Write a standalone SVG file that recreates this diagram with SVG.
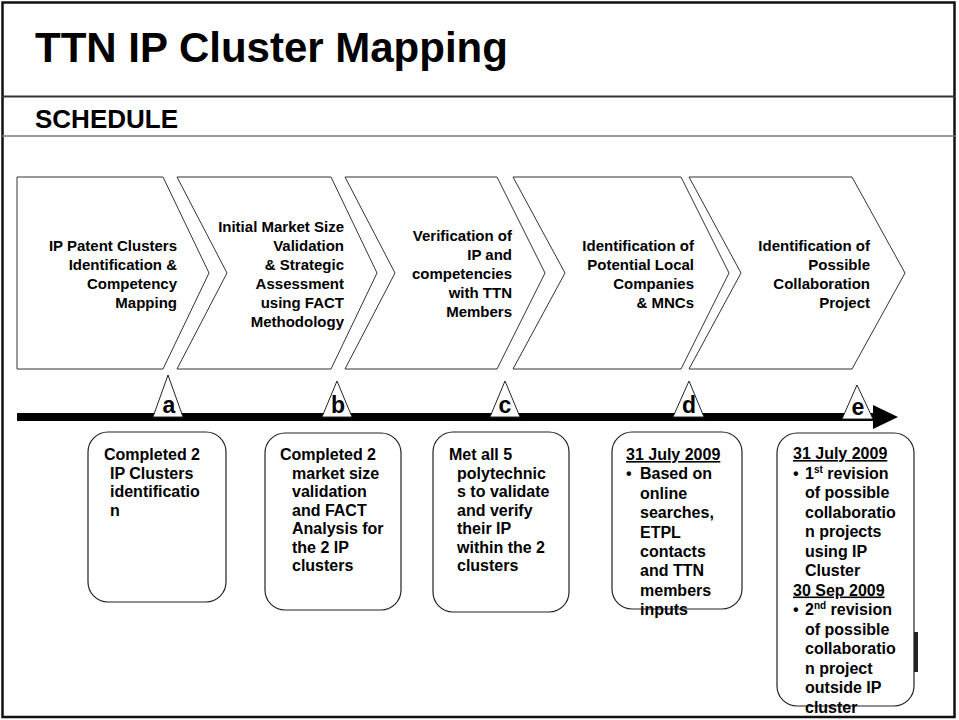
<svg xmlns="http://www.w3.org/2000/svg" width="959" height="720" viewBox="0 0 959 720">
<style>
text{font-family:"Liberation Sans",Arial,sans-serif;font-weight:bold;fill:#000}
.chev{fill:#fff;stroke:#333;stroke-width:1}
.ct{font-size:15px;text-anchor:end}
.tri{fill:#fff;stroke:#222;stroke-width:1}
.tl{font-size:23px;text-anchor:middle}
.box{fill:#fff;stroke:#222;stroke-width:1.2}
.bt{font-size:16px}
.u{text-decoration:underline}
</style>
<rect x="0" y="0" width="959" height="720" fill="#fff"/>
<g id="frame">
<rect x="2.5" y="2.5" width="952" height="714.5" fill="none" stroke="#111" stroke-width="2.5"/>
<line x1="2" y1="96.5" x2="955" y2="96.5" stroke="#333" stroke-width="2"/>
<line x1="2" y1="136" x2="955" y2="136" stroke="#777" stroke-width="1.5"/>
<text x="35" y="62" style="font-size:42px">TTN IP Cluster Mapping</text>
<text x="35" y="128" style="font-size:26px">SCHEDULE</text>
</g>
<g id="step1">
<polygon class="chev" points="17,177 163,177 209,273 163,369 17,369"/>
<text class="ct"><tspan x="177" y="251">IP Patent Clusters</tspan><tspan x="177" y="270">Identification &amp;</tspan><tspan x="177" y="289">Competency</tspan><tspan x="177" y="308">Mapping</tspan></text>
</g>
<g id="step2">
<polygon class="chev" points="177,177 331,177 377,273 331,369 177,369 227,273"/>
<text class="ct"><tspan x="344" y="232">Initial Market Size</tspan><tspan x="344" y="251">Validation</tspan><tspan x="344" y="270">&amp; Strategic</tspan><tspan x="344" y="289">Assessment</tspan><tspan x="344" y="308">using FACT</tspan><tspan x="344" y="327">Methodology</tspan></text>
</g>
<g id="step3">
<polygon class="chev" points="345,177 497,177 545,273 497,369 345,369 395,273"/>
<text class="ct"><tspan x="512" y="241">Verification of</tspan><tspan x="512" y="260">IP and</tspan><tspan x="512" y="279">competencies</tspan><tspan x="512" y="298">with TTN</tspan><tspan x="512" y="317">Members</tspan></text>
</g>
<g id="step4">
<polygon class="chev" points="513,177 681,177 729,273 681,369 513,369 565,273"/>
<text class="ct"><tspan x="694" y="251">Identification of</tspan><tspan x="694" y="270">Potential Local</tspan><tspan x="694" y="289">Companies</tspan><tspan x="694" y="308">&amp; MNCs</tspan></text>
</g>
<g id="step5">
<polygon class="chev" points="689,177 852,177 905,273 852,369 689,369 741,273"/>
<text class="ct"><tspan x="870" y="251">Identification of</tspan><tspan x="870" y="270">Possible</tspan><tspan x="870" y="289">Collaboration</tspan><tspan x="870" y="308">Project</tspan></text>
</g>
<g id="timeline">
<rect x="17" y="413" width="858" height="8" fill="#000"/>
<polygon points="873,405 898,417 873,429" fill="#000"/>
</g>
<g id="milestone-a">
<polygon class="tri" points="168,375 183,417 153,417"/>
<text class="tl" x="169" y="413">a</text>
</g>
<g id="milestone-b">
<polygon class="tri" points="337,381 352,417 322,417"/>
<text class="tl" x="338" y="413">b</text>
</g>
<g id="milestone-c">
<polygon class="tri" points="505,381 520,417 490,417"/>
<text class="tl" x="505" y="413">c</text>
</g>
<g id="milestone-d">
<polygon class="tri" points="689,381 704,417 673,417"/>
<text class="tl" x="689" y="413">d</text>
</g>
<g id="milestone-e">
<polygon class="tri" points="857,385 873,419 842,419"/>
<text class="tl" x="858" y="415">e</text>
</g>
<g id="box-a">
<rect class="box" x="88" y="432" width="138" height="170" rx="20"/>
<text class="bt"><tspan x="104" y="460">Completed 2</tspan><tspan x="110" y="478.5">IP Clusters</tspan><tspan x="110" y="497">identificatio</tspan><tspan x="110" y="515.5">n</tspan></text>
</g>
<g id="box-b">
<rect class="box" x="265" y="433" width="136" height="177" rx="20"/>
<text class="bt"><tspan x="280" y="460">Completed 2</tspan><tspan x="292" y="478.5">market size</tspan><tspan x="292" y="497">validation</tspan><tspan x="292" y="515.5">and  FACT</tspan><tspan x="292" y="534">Analysis for</tspan><tspan x="292" y="552.5">the 2 IP</tspan><tspan x="292" y="571">clusters</tspan></text>
</g>
<g id="box-c">
<rect class="box" x="433" y="432" width="136" height="180" rx="20"/>
<text class="bt"><tspan x="449" y="460">Met all 5</tspan><tspan x="457" y="478.5">polytechnic</tspan><tspan x="457" y="497">s to validate</tspan><tspan x="457" y="515.5">and verify</tspan><tspan x="457" y="534">their IP</tspan><tspan x="457" y="552.5">within the 2</tspan><tspan x="457" y="571">clusters</tspan></text>
</g>
<g id="box-d">
<rect class="box" x="612" y="432" width="130" height="177" rx="20"/>
<text class="bt"><tspan x="626" y="460" class="u">31 July 2009</tspan><tspan x="626" y="479.4">•</tspan><tspan x="640" y="479.4">Based on</tspan><tspan x="640" y="498.8">online</tspan><tspan x="640" y="518.2">searches,</tspan><tspan x="640" y="537.6">ETPL</tspan><tspan x="640" y="557">contacts</tspan><tspan x="640" y="576.4">and TTN</tspan><tspan x="640" y="595.8">members</tspan><tspan x="640" y="615.2">inputs</tspan></text>
</g>
<g id="box-e">
<rect x="914" y="632" width="4" height="40" fill="#222"/>
<rect class="box" x="777" y="433" width="137" height="273" rx="20"/>
<text class="bt"><tspan x="793" y="459" class="u">31 July 2009</tspan><tspan x="793" y="478.5">•</tspan><tspan x="805" y="478.5">1<tspan style="font-size:10px" dy="-6">st</tspan><tspan dy="6"> revision</tspan></tspan><tspan x="805" y="498">of possible</tspan><tspan x="805" y="517.5">collaboratio</tspan><tspan x="805" y="537">n projects</tspan><tspan x="805" y="556.5">using IP</tspan><tspan x="805" y="576">Cluster</tspan><tspan x="793" y="595.5" class="u">30 Sep 2009</tspan><tspan x="793" y="615">•</tspan><tspan x="805" y="615">2<tspan style="font-size:10px" dy="-6">nd</tspan><tspan dy="6"> revision</tspan></tspan><tspan x="805" y="634.5">of possible</tspan><tspan x="805" y="654">collaboratio</tspan><tspan x="805" y="673.5">n project</tspan><tspan x="805" y="693">outside IP</tspan><tspan x="805" y="712.5">cluster</tspan></text>
</g>
</svg>
